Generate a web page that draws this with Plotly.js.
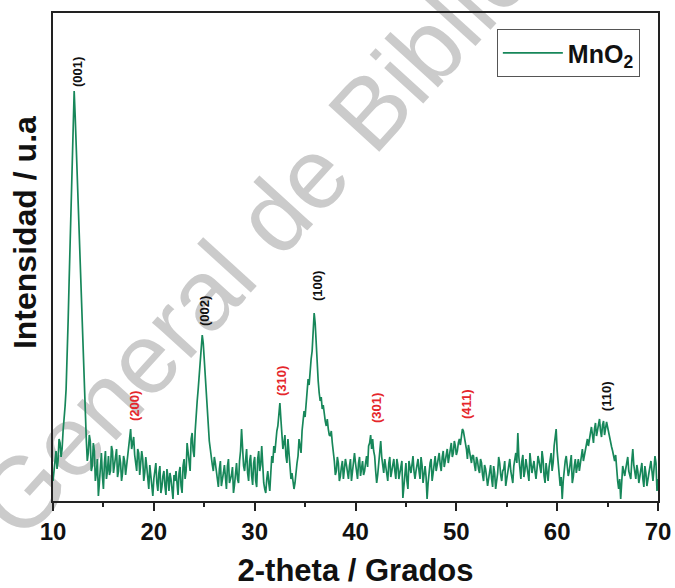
<!DOCTYPE html>
<html>
<head>
<meta charset="utf-8">
<script src="https://cdn.plot.ly/plotly-3.0.1.min.js"></script>
<style>html,body{margin:0;padding:0;background:#fff;}#chart{width:675px;height:588px;}</style>
</head>
<body>
<div id="chart"></div>
<script>
// Scan: 2-theta from 10.0 to 70.0, sampled every 0.1 degree
const twoThetaStart = 10.0;
const twoThetaStep = 0.1;
// Intensity (arbitrary units), one row per degree (N.0 ... N.9)
const intensity = [
  20, 30, 45, 50, 32, 40, 62, 58, 44, 52,            // 10
  70, 80, 95, 112, 140, 180, 220, 255, 295, 333,     // 11
  372, 410, 385, 355, 322, 290, 258, 225, 192, 162,  // 12
  135, 105, 78, 62, 40, 48, 66, 60, 30, 35,          // 13
  58, 50, 20, 28, 42, 5, 18, 40, 48, 25,             // 14
  12, 38, 50, 22, 30, 45, 26, 30, 55, 50,            // 15
  28, 36, 44, 52, 24, 30, 46, 38, 20, 28,            // 16
  45, 40, 26, 35, 48, 55, 66, 72, 52, 58,            // 17
  64, 46, 38, 30, 52, 48, 26, 35, 50, 42,            // 18
  20, 28, 44, 34, 22, 12, 36, 24, 16, 5,             // 19
  22, 30, 38, 18, 10, 28, 35, 8, 14, 25,             // 20
  30, 15, 6, 32, 24, 10, 28, 22, 12, 2,              // 21
  26, 20, 30, 12, 6, 28, 34, 15, 8, 35,              // 22
  42, 22, 30, 58, 46, 40, 30, 62, 68, 50,            // 23
  44, 70, 92, 100, 112, 125, 140, 160, 166, 158,     // 24
  140, 125, 108, 95, 80, 60, 52, 42, 36, 30,         // 25
  44, 38, 28, 22, 14, 32, 40, 15, 20, 28,            // 26
  36, 20, 12, 35, 42, 18, 22, 26, 34, 8,             // 27
  16, 30, 38, 22, 18, 40, 50, 72, 44, 35,            // 28
  30, 45, 52, 28, 20, 40, 46, 25, 16, 38,            // 29
  44, 20, 14, 42, 50, 30, 36, 55, 30, 18,            // 30
  12, 8, 22, 30, 18, 10, 28, 45, 38, 55,             // 31
  48, 62, 70, 75, 84, 98, 82, 70, 52, 58,            // 32
  66, 45, 38, 62, 48, 35, 22, 28, 20, 12,            // 33
  18, 30, 38, 45, 62, 55, 48, 70, 78, 90,            // 34
  84, 100, 112, 122, 116, 135, 142, 150, 172, 188,   // 35
  178, 155, 132, 120, 108, 100, 104, 92, 96, 86,     // 36
  80, 75, 82, 72, 66, 65, 70, 58, 50, 40,            // 37
  26, 30, 44, 38, 20, 25, 34, 40, 22, 30,            // 38
  42, 36, 28, 22, 35, 42, 20, 28, 40, 48,            // 39
  38, 30, 22, 38, 44, 25, 32, 40, 26, 30,            // 40
  38, 45, 34, 55, 58, 66, 52, 62, 50, 45,            // 41
  30, 18, 26, 40, 52, 60, 44, 35, 28, 42,            // 42
  34, 28, 20, 38, 44, 24, 30, 36, 42, 30,            // 43
  22, 42, 36, 22, 28, 35, 40, 3, 14, 30,             // 44
  38, 20, 12, 40, 34, 28, 36, 45, 30, 22,            // 45
  30, 38, 42, 30, 22, 44, 36, 18, 26, 35,            // 46
  24, 2, 18, 30, 38, 42, 20, 28, 40, 45,             // 47
  30, 35, 42, 48, 36, 30, 44, 50, 34, 40,            // 48
  46, 52, 38, 45, 52, 58, 44, 48, 60, 55,            // 49
  46, 50, 58, 62, 56, 66, 72, 70, 64, 60,            // 50
  52, 42, 56, 50, 44, 38, 46, 45, 36, 30,            // 51
  44, 40, 32, 28, 42, 38, 26, 20, 36, 32,            // 52
  24, 15, 22, 30, 36, 22, 14, 35, 28, 12,            // 53
  20, 28, 44, 38, 26, 20, 30, 32, 40, 15,            // 54
  22, 30, 36, 42, 30, 25, 18, 35, 40, 48,            // 55
  38, 68, 44, 30, 22, 40, 46, 24, 30, 42,            // 56
  36, 30, 20, 48, 38, 28, 34, 40, 30, 22,            // 57
  32, 45, 40, 35, 28, 50, 42, 25, 18, 38,            // 58
  30, 20, 34, 42, 48, 30, 38, 55, 62, 72,            // 59
  50, 35, 26, 15, 24, 2, 20, 32, 40, 45,             // 60
  34, 25, 30, 40, 46, 18, 24, 35, 42, 28,            // 61
  36, 42, 30, 38, 46, 52, 40, 45, 50, 58,            // 62
  62, 55, 60, 68, 74, 62, 58, 72, 78, 65,            // 63
  70, 78, 82, 70, 64, 76, 80, 66, 72, 79,            // 64
  74, 68, 62, 60, 54, 50, 44, 40, 46, 28,            // 65
  20, 12, 22, 2, 18, 35, 30, 25, 32, 40,             // 66
  44, 30, 26, 22, 40, 52, 36, 28, 22, 36,            // 67
  30, 18, 26, 32, 38, 22, 14, 35, 28, 15,            // 68
  24, 28, 34, 40, 30, 20, 32, 45, 38, 10,            // 69
  22                                                 // 70.0
];

// Peak (hkl) labels
const peakLabels = ['(001)', '(200)', '(002)', '(310)', '(100)', '(301)', '(411)', '(110)'];
const peakTheta  = [12.38, 18.04, 24.98, 32.62, 36.19, 42.04, 50.97, 64.86];
const peakLabelI = [429, 95, 190, 120, 215, 93, 97, 105];
const peakSecondary = [false, true, false, true, false, true, true, false];

const seriesName = 'MnO<sub>2</sub>';
const xTitle = '2-theta / Grados';
const yTitle = 'Intensidad / u.a';
const watermarkText = 'General de Bibliotecas';

const twoTheta = intensity.map((_, i) => +(twoThetaStart + i * twoThetaStep).toFixed(2));

const FONT = 'Liberation Sans, Arial, Helvetica, sans-serif';

const trace = {
  x: twoTheta,
  y: intensity,
  type: 'scatter',
  mode: 'lines',
  name: seriesName,
  line: {color: '#17875a', width: 1.7},
  hoverinfo: 'x+y'
};

const annotations = peakLabels.map((t, i) => ({
  x: peakTheta[i], y: peakLabelI[i], xref: 'x', yref: 'y',
  text: t, showarrow: false, textangle: -90,
  font: {family: FONT, size: 13, weight: 'bold', color: peakSecondary[i] ? '#e5262b' : '#111111'},
  xanchor: 'center', yanchor: 'middle'
}));

// y-axis title (placed slightly above the plot-area centre, as in the original)
annotations.push({
  xref: 'paper', yref: 'paper', x: -0.0463, y: 0.551,
  text: yTitle, showarrow: false, textangle: -90,
  xanchor: 'center', yanchor: 'middle',
  font: {family: FONT, size: 32, weight: 'bold', color: '#111'}
});

const layout = {
  width: 675, height: 588,
  margin: {l: 53, r: 17, t: 13, b: 87, pad: 0},
  paper_bgcolor: '#ffffff',
  plot_bgcolor: 'rgba(0,0,0,0)',
  font: {family: FONT, color: '#111'},
  showlegend: true,
  legend: {
    x: 0.970, xanchor: 'right', y: 0.967, yanchor: 'top',
    bordercolor: '#555', borderwidth: 1, bgcolor: 'rgba(0,0,0,0)',
    font: {family: FONT, size: 25, weight: 'bold', color: '#111'},
    itemwidth: 60
  },
  xaxis: {
    range: [10, 70], tick0: 10, dtick: 10,
    ticks: 'outside', ticklen: 8, tickwidth: 2, tickcolor: '#222',
    minor: {dtick: 5, ticks: 'outside', ticklen: 4, tickwidth: 2, tickcolor: '#222', showgrid: false},
    showline: true, linewidth: 2, linecolor: '#222', mirror: true,
    showgrid: false, zeroline: false,
    tickfont: {family: FONT, size: 24, weight: 'bold', color: '#111'},
    ticklabelstandoff: 0,
    title: {text: xTitle, font: {family: FONT, size: 31, weight: 'bold', color: '#111'}, standoff: 18},
    fixedrange: true
  },
  yaxis: {
    range: [0, 488],
    ticks: '', showticklabels: false,
    showline: true, linewidth: 2, linecolor: '#222', mirror: true,
    showgrid: false, zeroline: false,
    fixedrange: true
  },
  annotations: annotations,
  shapes: [{
    type: 'line', xref: 'paper', yref: 'paper',
    x0: 0.2320, y0: 0.4315, x1: 0.6773, y1: 1.0372,
    line: {width: 0, color: 'rgba(0,0,0,0)'},
    layer: 'below',
    label: {
      text: watermarkText, textposition: 'middle', yanchor: 'middle', textangle: -47.65,
      font: {family: FONT, size: 100, color: '#cbcbcb'}
    }
  }]
};

Plotly.newPlot('chart', [trace], layout, {displayModeBar: false, staticPlot: true});
</script>
</body>
</html>
